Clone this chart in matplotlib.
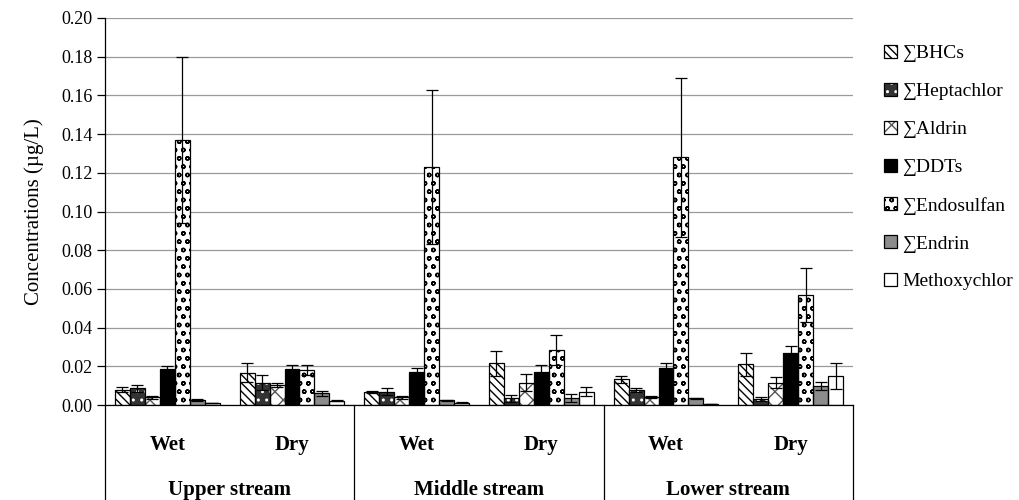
import numpy as np
import matplotlib
matplotlib.use('Agg')
import matplotlib.pyplot as plt
from matplotlib.patches import Patch
from matplotlib.lines import Line2D

plt.rcParams['font.family'] = ['Liberation Serif', 'DejaVu Serif']
plt.rcParams['hatch.linewidth'] = 1.0

seasons = ['Wet', 'Dry', 'Wet', 'Dry', 'Wet', 'Dry']
sites = ['Upper stream', 'Middle stream', 'Lower stream']
names = ['∑BHCs', '∑Heptachlor', '∑Aldrin', '∑DDTs', '∑Endosulfan', '∑Endrin', 'Methoxychlor']

bhc = [0.0080, 0.0167, 0.0069, 0.0216, 0.0132, 0.0210]
hept = [0.0086, 0.0115, 0.0069, 0.0034, 0.0077, 0.0030]
aldrin = [0.0040, 0.0103, 0.0040, 0.0115, 0.0042, 0.0115]
ddt = [0.0184, 0.0184, 0.0172, 0.0172, 0.0189, 0.0268]
endo = [0.137, 0.0180, 0.123, 0.0284, 0.128, 0.0570]
endrin = [0.0026, 0.0060, 0.0025, 0.0034, 0.0035, 0.0100]
methox = [0.0009, 0.0022, 0.0012, 0.0069, 0.0005, 0.0151]

bhc_err = [0.0014, 0.0050, 0.0005, 0.0065, 0.0019, 0.0060]
hept_err = [0.0017, 0.0040, 0.0017, 0.0016, 0.0009, 0.0010]
aldrin_err = [0.0007, 0.0009, 0.0007, 0.0045, 0.0006, 0.0028]
ddt_err = [0.0020, 0.0022, 0.0018, 0.0034, 0.0026, 0.0036]
endo_err = [0.043, 0.0026, 0.040, 0.0076, 0.041, 0.0140]
endrin_err = [0.0004, 0.0014, 0.0003, 0.0021, 0.0003, 0.0020]
methox_err = [0.0000, 0.0003, 0.0003, 0.0022, 0.0000, 0.0067]

vals = [bhc, hept, aldrin, ddt, endo, endrin, methox]
errs = [bhc_err, hept_err, aldrin_err, ddt_err, endo_err, endrin_err, methox_err]
# face colour, hatch colour, hatch
styles = [('white', 'black', '\\\\\\\\'),
          ('#333333', 'white', '..'),
          ('white', '#555555', 'xx'),
          ('black', 'black', ''),
          ('white', 'black', 'oo'),
          ('#8c8c8c', '#8c8c8c', ''),
          ('white', 'white', '')]

fig = plt.figure(figsize=(10.19, 5.0), dpi=100)
ax = fig.add_axes([105/1019, 1-405/500, 748/1019, 387/500])

x = np.arange(len(seasons))
w = 0.12
handles = []
for i in range(7):
    xi = x + (i-3)*w
    fc, hc, h = styles[i]
    ax.bar(xi, vals[i], w, color=fc, edgecolor=hc, hatch=h, lw=0, zorder=2)
    ax.bar(xi, vals[i], w, fill=False, edgecolor='black', lw=0.9, zorder=3)
    ax.errorbar(xi, vals[i], yerr=errs[i], fmt='none', ecolor='black',
                elinewidth=0.9, capsize=4, capthick=0.9, zorder=4)
    handles.append((Patch(facecolor=fc, edgecolor=hc, hatch=h, lw=0),
                    Patch(fill=False, edgecolor='black', lw=0.9)))

ax.set_xlim(-0.5, 5.5)
ax.set_ylim(0, 0.20)
ax.set_yticks(np.arange(0, 0.201, 0.02))
ax.set_yticklabels(['%.2f' % v for v in np.arange(0, 0.201, 0.02)], fontsize=13)
ax.yaxis.grid(True, color='#9a9a9a', lw=0.9)
ax.set_axisbelow(True)
ax.tick_params(axis='y', length=6, width=0.9, direction='out', pad=3)
ax.set_xticks([])
for s in ['top', 'right']:
    ax.spines[s].set_visible(False)
ax.spines['left'].set_linewidth(0.9)
ax.spines['bottom'].set_linewidth(0.9)
ax.set_ylabel('Concentrations (µg/L)', fontsize=15, labelpad=12)

# two-level category labels under the axis
ybot = -95/387
for xs in [-0.5, 1.5, 3.5, 5.5]:
    ax.add_line(Line2D([xs, xs], [0, ybot], transform=ax.get_xaxis_transform(),
                       color='black', lw=0.9, clip_on=False))
for xi, s in zip(x, seasons):
    ax.text(xi, -40/387, s, transform=ax.get_xaxis_transform(), ha='center',
            va='center', fontsize=15, fontweight='bold')
for k, s in enumerate(sites):
    ax.text(2*k+0.5, -85/387, s, transform=ax.get_xaxis_transform(), ha='center',
            va='center', fontsize=15, fontweight='bold')

fig.legend(handles, names, loc='upper left', bbox_to_anchor=(884/1019, 1-45/500),
           frameon=False, fontsize=14, handlelength=0.65, handleheight=0.65,
           handletextpad=0.3, labelspacing=1.06, borderaxespad=0, borderpad=0)

fig.savefig('out.png', dpi=100)
